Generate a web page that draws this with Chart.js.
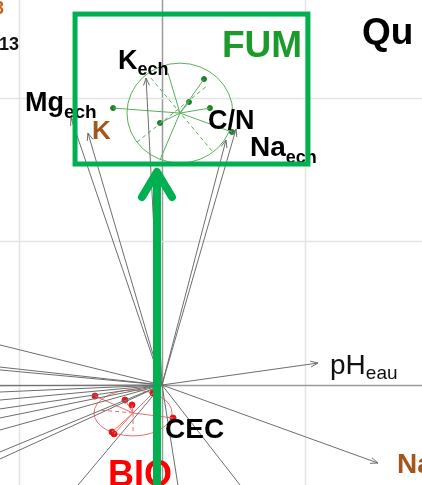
<!DOCTYPE html>
<html>
<head>
<meta charset="utf-8">
<script src="https://cdn.jsdelivr.net/npm/chart.js@4.4.1/dist/chart.umd.min.js"></script>
<style>
  html, body { margin: 0; padding: 0; background: #fff; overflow: hidden; }
  #wrap { width: 422px; height: 485px; position: relative; }
</style>
</head>
<body>
<div id="wrap"><canvas id="c"></canvas></div>
<script>
// Variable loadings drawn as arrows (tip coordinates on the factorial plane)
const arrowNames = ['K_ech', 'K', 'Mg_ech', 'C/N', 'Na_ech', 'pH_eau', 'Na'];
const arrowX = [-0.111, -0.516, -0.634, 0.446, 0.516, 1.087, 1.505];
const arrowY = [2.139, 1.756, 1.861, 1.707, 1.784, 0.153, -0.544];

// Further loadings whose tips run past the frame
const lineX = [-1.13, -1.13, -1.13, -1.13, -1.13, -1.13, -1.13, -1.13, -1.13, -1.13, -1.13, -0.585, 0.544, 0.111];
const lineY = [0.279, 0.125, 0.105, -0.005, -0.049, -0.105, -0.167, -0.230, -0.314, -0.467, -0.516, -0.697, -0.697, -0.697];

// FUM group: centroid, spread and individual samples
const fumCentre = [0.125, 1.895];
const fumRadius = [0.369, 0.348];
const fumX = [0.293, 0.188, -0.341, 0.334, -0.014, 0.488];
const fumY = [2.132, 1.972, 1.930, 1.930, 1.826, 1.763];
const fumSpokeX = [0.042, -0.014];
const fumSpokeY = [2.174, 1.568];
const fumAxisA = [[-0.077, 2.139], [0.355, 1.624]];
const fumAxisB = [[-0.174, 1.693], [0.314, 2.084]];

// BIO group: centroid, spread and individual samples
const bioCentre = [-0.202, -0.195];
const bioRadius = [0.272, 0.160];
const bioX = [-0.467, -0.258, -0.209, -0.348, -0.334, -0.063, 0.077];
const bioY = [-0.077, -0.105, -0.139, -0.328, -0.341, -0.056, -0.230];
const bioAxisH = [-0.446, -0.174];
const bioAxisV = [-0.202, -0.328];

// Axis window and grid positions
const xRange = [-1.129, 1.812];
const yRange = [-0.697, 2.683];
const gridX = [-1, 0, 1];
const gridY = [0, 1, 2];

const GREY = '#6e6e6e';
const FUM_LINE = '#58b05a';
const FUM_DOT = '#1f7f25';
const BIO_LINE = '#f26a6a';
const BIO_DOT = '#e01515';
const BROWN = '#a5561a';
const HIGHLIGHT = '#00b050';
const FONT = '"Liberation Sans", Arial, sans-serif';

// Text placed on the plane (left edge, baseline)
const labelItems = [
  { text: 'FUM', x: 0.418, y: 2.286, size: 37, bold: true, color: '#1c9b2c' },
  { text: 'Qu', x: 1.394, y: 2.376, size: 37, bold: true, color: '#000' },
  { text: '13', x: -1.136, y: 2.334, size: 18, bold: true, color: '#111' },
  { text: '3', x: -1.171, y: 2.585, size: 18, bold: true, color: '#c0651a' },
  { text: 'K', sub: 'ech', x: -0.307, y: 2.202, size: 27, subSize: 18, subDrop: 6, bold: true, color: '#000' },
  { text: 'Mg', sub: 'ech', x: -0.955, y: 1.909, size: 27, subSize: 19, subDrop: 7, bold: true, color: '#000' },
  { text: 'K', x: -0.488, y: 1.714, size: 26, bold: true, color: BROWN },
  { text: 'C/N', x: 0.321, y: 1.784, size: 27, bold: true, color: '#000' },
  { text: 'Na', sub: 'ech', x: 0.613, y: 1.596, size: 28, subSize: 18, subDrop: 7, bold: true, color: '#000' },
  { text: 'pH', sub: 'eau', x: 1.171, y: 0.077, size: 28, subSize: 19, subDrop: 5, bold: false, color: '#111' },
  { text: 'CEC', x: 0.021, y: -0.369, size: 28, bold: true, color: '#000' },
  { text: 'BIO', x: -0.376, y: -0.704, size: 36, bold: true, color: '#ff0000' },
  { text: 'Na', x: 1.638, y: -0.613, size: 28, bold: true, color: BROWN }
];

// Highlight frame and direction arrow
const frameBox = { left: -0.606, right: 1.017, top: 2.585, bottom: 1.540 };
const bigArrow = { x: -0.035, from: -0.72, to: 1.484 };

function segment(a, b, color, width, dash) {
  return {
    data: [{ x: a[0], y: a[1] }, { x: b[0], y: b[1] }],
    showLine: true, borderColor: color, borderWidth: width,
    borderDash: dash || [], pointRadius: 0, pointHoverRadius: 0, fill: false
  };
}

const datasets = [];
// loadings without heads
lineX.forEach((x, i) => datasets.push(segment([0, 0], [x, lineY[i]], GREY, 1)));
// loadings with heads
arrowX.forEach((x, i) => {
  const d = segment([0, 0], [x, arrowY[i]], GREY, 1);
  d.label = arrowNames[i];
  d.arrow = true;
  datasets.push(d);
});
// FUM spokes, axes, samples
fumX.forEach((x, i) => datasets.push(segment(fumCentre, [x, fumY[i]], FUM_LINE, 1)));
fumSpokeX.forEach((x, i) => datasets.push(segment(fumCentre, [x, fumSpokeY[i]], FUM_LINE, 1)));
datasets.push(segment(fumAxisA[0], fumAxisA[1], FUM_LINE, 1, [4, 3]));
datasets.push(segment(fumAxisB[0], fumAxisB[1], FUM_LINE, 1, [4, 3]));
datasets.push({
  data: fumX.map((x, i) => ({ x, y: fumY[i] })),
  showLine: false, pointRadius: 2.5, pointBackgroundColor: FUM_DOT, pointBorderColor: FUM_DOT
});
// BIO spokes, axes, samples
bioX.forEach((x, i) => datasets.push(segment(bioCentre, [x, bioY[i]], BIO_LINE, 1)));
datasets.push(segment(bioCentre, bioAxisH, BIO_LINE, 1, [4, 3]));
datasets.push(segment(bioCentre, bioAxisV, BIO_LINE, 1, [4, 3]));
datasets.push({
  data: bioX.map((x, i) => ({ x, y: bioY[i] })),
  showLine: false, pointRadius: 3, pointBackgroundColor: BIO_DOT, pointBorderColor: BIO_DOT
});

const decorations = {
  id: 'decorations',
  beforeDatasetsDraw(chart) {
    const { ctx, chartArea: a, scales: { x: sx, y: sy } } = chart;
    // grid and the two principal axes
    ctx.save();
    ctx.lineWidth = 1.5;
    gridX.forEach(v => {
      const p = Math.round(sx.getPixelForValue(v)) + 0.5;
      ctx.strokeStyle = v === 0 ? '#9a9a9a' : '#e4e4e4';
      ctx.beginPath(); ctx.moveTo(p, a.top); ctx.lineTo(p, a.bottom); ctx.stroke();
    });
    gridY.forEach(v => {
      const p = Math.round(sy.getPixelForValue(v)) + 0.5;
      ctx.strokeStyle = v === 0 ? '#9a9a9a' : '#e4e4e4';
      ctx.beginPath(); ctx.moveTo(a.left, p); ctx.lineTo(a.right, p); ctx.stroke();
    });
    ctx.restore();
    const ell = (c, r, color) => {
      const cx = sx.getPixelForValue(c[0]);
      const cy = sy.getPixelForValue(c[1]);
      const rx = Math.abs(sx.getPixelForValue(c[0] + r[0]) - cx);
      const ry = Math.abs(sy.getPixelForValue(c[1] + r[1]) - cy);
      ctx.save();
      ctx.beginPath();
      ctx.ellipse(cx, cy, rx, ry, 0, 0, Math.PI * 2);
      ctx.strokeStyle = color;
      ctx.lineWidth = 1;
      ctx.stroke();
      ctx.restore();
    };
    ell(fumCentre, fumRadius, FUM_LINE);
    ell(bioCentre, bioRadius, BIO_LINE);
  },
  afterDatasetsDraw(chart) {
    const { ctx, scales: { x: sx, y: sy } } = chart;
    // arrow heads on loadings
    chart.data.datasets.forEach((d, i) => {
      if (!d.arrow) return;
      const pts = chart.getDatasetMeta(i).data;
      const a = pts[0], b = pts[1];
      const ang = Math.atan2(b.y - a.y, b.x - a.x);
      const len = 8, spread = 0.38;
      ctx.save();
      ctx.strokeStyle = GREY;
      ctx.lineWidth = 1;
      ctx.beginPath();
      ctx.moveTo(b.x - len * Math.cos(ang - spread), b.y - len * Math.sin(ang - spread));
      ctx.lineTo(b.x, b.y);
      ctx.lineTo(b.x - len * Math.cos(ang + spread), b.y - len * Math.sin(ang + spread));
      ctx.stroke();
      ctx.restore();
    });
    // labels
    labelItems.forEach(l => {
      const px = sx.getPixelForValue(l.x);
      const py = sy.getPixelForValue(l.y);
      const w = l.bold ? 'bold ' : '';
      ctx.save();
      ctx.fillStyle = l.color;
      ctx.textBaseline = 'alphabetic';
      ctx.textAlign = 'left';
      ctx.font = w + l.size + 'px ' + FONT;
      ctx.fillText(l.text, px, py);
      if (l.sub) {
        const tw = ctx.measureText(l.text).width;
        ctx.font = w + l.subSize + 'px ' + FONT;
        ctx.fillText(l.sub, px + tw, py + l.subDrop);
      }
      ctx.restore();
    });
    // highlight frame
    const L = sx.getPixelForValue(frameBox.left), R = sx.getPixelForValue(frameBox.right);
    const T = sy.getPixelForValue(frameBox.top), B = sy.getPixelForValue(frameBox.bottom);
    ctx.save();
    ctx.strokeStyle = HIGHLIGHT;
    ctx.lineWidth = 5;
    ctx.strokeRect(L, T, R - L, B - T);
    // direction arrow
    const ax = sx.getPixelForValue(bigArrow.x);
    const y0 = sy.getPixelForValue(bigArrow.from);
    const y1 = sy.getPixelForValue(bigArrow.to);
    ctx.lineWidth = 8;
    ctx.lineCap = 'butt';
    ctx.beginPath();
    ctx.moveTo(ax, y0);
    ctx.lineTo(ax, y1 + 4);
    ctx.stroke();
    ctx.lineCap = 'round';
    ctx.lineJoin = 'round';
    ctx.beginPath();
    ctx.moveTo(ax - 15, y1 + 25);
    ctx.lineTo(ax, y1);
    ctx.lineTo(ax + 15, y1 + 25);
    ctx.stroke();
    ctx.restore();
  }
};

new Chart(document.getElementById('c'), {
  type: 'scatter',
  data: { datasets },
  options: {
    responsive: true,
    maintainAspectRatio: false,
    animation: false,
    events: [],
    layout: { padding: 0, autoPadding: false },
    plugins: { legend: { display: false }, tooltip: { enabled: false } },
    scales: {
      x: { type: 'linear', display: false, min: xRange[0], max: xRange[1] },
      y: { type: 'linear', display: false, min: yRange[0], max: yRange[1] }
    }
  },
  plugins: [decorations]
});
</script>
</body>
</html>
